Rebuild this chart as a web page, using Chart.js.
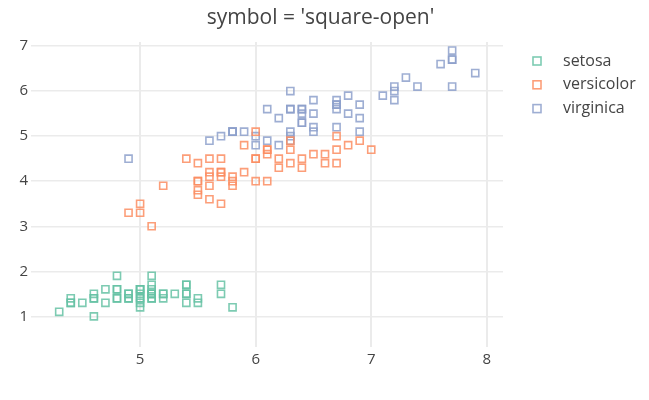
<!DOCTYPE html>
<html>
<head>
<meta charset="utf-8">
<script src="https://cdn.jsdelivr.net/npm/chart.js@4"></script>
<style>
  html, body { margin: 0; padding: 0; background: #fff; }
  #wrap { width: 649px; height: 400px; }
</style>
</head>
<body>
<div id="wrap"><canvas id="irisChart" width="649" height="400"></canvas></div>
<script>
const titleText = "symbol = 'square-open'";
const species = ['setosa', 'versicolor', 'virginica'];
const speciesColors = ['rgba(102,194,165,0.85)', 'rgba(252,141,98,0.85)', 'rgba(141,160,203,0.85)'];
const xTicks = [5, 6, 7, 8];
const yTicks = [1, 2, 3, 4, 5, 6, 7];

// sepal length (x) / petal length (y)
const setosaSepal = [5.1,4.9,4.7,4.6,5.0,5.4,4.6,5.0,4.4,4.9,5.4,4.8,4.8,4.3,5.8,5.7,5.4,5.1,5.7,5.1,5.4,5.1,4.6,5.1,4.8,5.0,5.0,5.2,5.2,4.7,4.8,5.4,5.2,5.5,4.9,5.0,5.5,4.9,4.4,5.1,5.0,4.5,4.4,5.0,5.1,4.8,5.1,4.6,5.3,5.0];
const setosaPetal = [1.4,1.4,1.3,1.5,1.4,1.7,1.4,1.5,1.4,1.5,1.5,1.6,1.4,1.1,1.2,1.5,1.3,1.4,1.7,1.5,1.7,1.5,1.0,1.7,1.9,1.6,1.6,1.5,1.4,1.6,1.6,1.5,1.5,1.4,1.5,1.2,1.3,1.4,1.3,1.5,1.3,1.3,1.3,1.6,1.9,1.4,1.6,1.4,1.5,1.4];
const versicolorSepal = [7.0,6.4,6.9,5.5,6.5,5.7,6.3,4.9,6.6,5.2,5.0,5.9,6.0,6.1,5.6,6.7,5.6,5.8,6.2,5.6,5.9,6.1,6.3,6.1,6.4,6.6,6.8,6.7,6.0,5.7,5.5,5.5,5.8,6.0,5.4,6.0,6.7,6.3,5.6,5.5,5.5,6.1,5.8,5.0,5.6,5.7,5.7,6.2,5.1,5.7];
const versicolorPetal = [4.7,4.5,4.9,4.0,4.6,4.5,4.7,3.3,4.6,3.9,3.5,4.2,4.0,4.7,3.6,4.4,4.5,4.1,4.5,3.9,4.8,4.0,4.9,4.7,4.3,4.4,4.8,5.0,4.5,3.5,3.8,3.7,3.9,5.1,4.5,4.5,4.7,4.4,4.1,4.0,4.4,4.6,4.0,3.3,4.2,4.2,4.2,4.3,3.0,4.1];
const virginicaSepal = [6.3,5.8,7.1,6.3,6.5,7.6,4.9,7.3,6.7,7.2,6.5,6.4,6.8,5.7,5.8,6.4,6.5,7.7,7.7,6.0,6.9,5.6,7.7,6.3,6.7,7.2,6.2,6.1,6.4,7.2,7.4,7.9,6.4,6.3,6.1,7.7,6.3,6.4,6.0,6.9,6.7,6.9,5.8,6.8,6.7,6.7,6.3,6.5,6.2,5.9];
const virginicaPetal = [6.0,5.1,5.9,5.6,5.8,6.6,4.5,6.3,5.8,6.1,5.1,5.3,5.5,5.0,5.1,5.3,5.5,6.7,6.9,5.0,5.7,4.9,6.7,4.9,5.7,6.0,4.8,4.9,5.6,5.8,6.1,6.4,5.6,5.1,5.6,6.1,5.6,5.5,4.8,5.4,5.6,5.1,5.1,5.9,5.7,5.2,5.0,5.2,5.4,5.1];

const sepalBySpecies = [setosaSepal, versicolorSepal, virginicaSepal];
const petalBySpecies = [setosaPetal, versicolorPetal, virginicaPetal];

const FONT = "'Open Sans', sans-serif";
const TEXT_COLOR = '#444';
const GRID_COLOR = '#ebebeb';

const datasets = species.map((name, i) => ({
  label: name,
  data: sepalBySpecies[i].map((x, j) => ({ x: x, y: petalBySpecies[i][j] })),
  pointStyle: 'rect',
  pointRadius: 5,
  pointHoverRadius: 5,
  borderWidth: 1.6,
  borderColor: speciesColors[i],
  backgroundColor: 'rgba(0,0,0,0)'
}));

// title centred on the canvas + legend on the right, plotly style
const titleAndLegend = {
  id: 'titleAndLegend',
  afterDraw(chart) {
    const ctx = chart.ctx;
    ctx.save();
    ctx.fillStyle = TEXT_COLOR;
    ctx.font = '21px ' + FONT;
    ctx.textAlign = 'center';
    ctx.textBaseline = 'middle';
    ctx.fillText(titleText, chart.width / 2 - 4, 18);

    ctx.textAlign = 'left';
    chart.data.datasets.forEach((ds, i) => {
      const cy = 61 + i * 23.8;
      ctx.strokeStyle = ds.borderColor;
      ctx.lineWidth = 1.6;
      ctx.strokeRect(533, cy - 4, 8, 8);
      ctx.fillStyle = TEXT_COLOR;
      ctx.font = '16px ' + FONT;
      ctx.fillText(ds.label, 563, cy);
    });
    ctx.restore();
  }
};

new Chart(document.getElementById('irisChart'), {
  type: 'scatter',
  data: { datasets: datasets },
  options: {
    responsive: false,
    animation: false,
    devicePixelRatio: 1,
    layout: { padding: { left: 0, right: 146, top: 42, bottom: 0 } },
    plugins: {
      legend: { display: false },
      tooltip: { enabled: false },
      title: { display: false }
    },
    scales: {
      x: {
        type: 'linear',
        min: 4.056,
        max: 8.14,
        border: { display: false },
        grid: { color: GRID_COLOR, lineWidth: 2, drawTicks: false },
        ticks: { color: TEXT_COLOR, font: { family: FONT, size: 15 }, padding: 4, includeBounds: false },
        afterBuildTicks: s => { s.ticks = xTicks.map(v => ({ value: v })); },
        afterFit: s => { s.height = 53; }
      },
      y: {
        type: 'linear',
        min: 0.32,
        max: 7.09,
        border: { display: false },
        grid: { color: GRID_COLOR, lineWidth: 1.5, drawTicks: false },
        ticks: { color: TEXT_COLOR, font: { family: FONT, size: 15 }, padding: 3, includeBounds: false },
        afterBuildTicks: s => { s.ticks = yTicks.map(v => ({ value: v })); },
        afterFit: s => { s.width = 31; }
      }
    }
  },
  plugins: [titleAndLegend]
});
</script>
</body>
</html>
